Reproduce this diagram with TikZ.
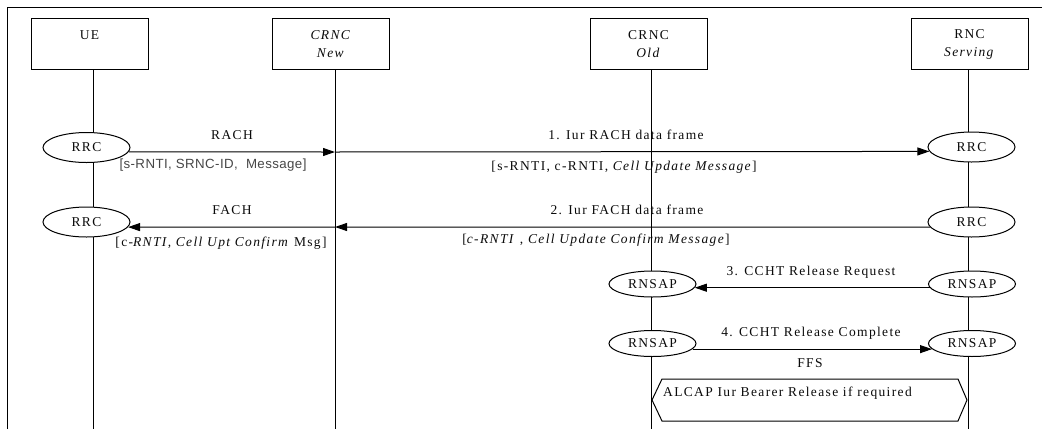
\documentclass[tikz,border=0pt]{standalone}
\usepackage{fontspec}
\setmainfont{Liberation Serif}[LetterSpace=10]
\setsansfont{Liberation Sans}[LetterSpace=3]
\usetikzlibrary{positioning,arrows.meta,shapes.geometric}
\definecolor{ligne}{RGB}{0,0,0}
\definecolor{texte}{RGB}{10,10,10}
\definecolor{parametre}{RGB}{70,70,70}
\tikzset{
  entite/.style={draw=ligne,line width=1pt,minimum width=117pt,minimum height=51pt,anchor=north,align=center,text=texte},
  protocole/.style={draw=ligne,ellipse,fill=white,line width=1pt,minimum width=87pt,minimum height=30pt,inner sep=0pt,text=texte},
  protocole2/.style={protocole,minimum height=26pt},
  message/.style={draw=ligne,line width=1pt,-{Triangle[length=12pt,width=8pt]}},
  vie/.style={draw=ligne,line width=1pt},
  etiquette/.style={text=texte,inner sep=0pt},
  sans/.style={text=parametre,inner sep=0pt,font=\fontsize{13.3}{18}\selectfont\sffamily}
}
\begin{document}
\begin{tikzpicture}[x=1pt,y=-1pt,font=\fontsize{13.5}{18}\selectfont]
    \useasboundingbox (0,0) rectangle (1042,429);

    % CADRE
    \draw[vie] (7,429) -- (7,7.5) -- (1043,7.5);

    % ENTITES
    \node[entite] (ue) at (89.5,18) {UE\\\phantom{N}};
    \node[entite] (crncn) at (331,18) {\textit{CRNC}\\\textit{New}};
    \node[entite] (crnco) at (648.5,18) {CRNC\\\textit{Old}};
    \node[entite] (rnc) at (969.5,18) {RNC\\\textit{Serving}};

    % LIGNES DE VIE
    \foreach \n/\x in {ue/93,crncn/335,crnco/651,rnc/968} {
        \coordinate (\n-bas) at (\x,429);
        \draw[vie] (\n.south -| \n-bas) -- (\n-bas);
    }

    % PROTOCOLES
    \node[protocole] (rrcu1) at (86.5,147.5) {RRC};
    \node[protocole] (rrcu2) at (86.5,222) {RRC};
    \node[protocole] (rrcs1) at (971.5,147) {RRC};
    \node[protocole] (rrcs2) at (971.5,222) {RRC};
    \node[protocole2] (rnsapo1) at (652.5,284) {RNSAP};
    \node[protocole2] (rnsaps1) at (972,284) {RNSAP};
    \node[protocole2] (rnsapo2) at (652.5,343.5) {RNSAP};
    \node[protocole2] (rnsaps2) at (972,343.5) {RNSAP};

    % POINTS DE PASSAGE
    \coordinate (rach) at (335,152);
    \coordinate (fach) at (335,227);

    % RACH ET 1. IUR RACH DATA FRAME
    \draw[message] (rrcu1.354) -- (rach);
    \draw[message] (rach) -- (rrcs1.186);
    \node[etiquette] at (232,135) {RACH};
    \node[sans] at (213,165) {[s-RNTI, SRNC-ID,\ \ Message]};
    \node[etiquette] at (626,135) {1. Iur RACH data frame};
    \node[etiquette] at (624,167) {[s-RNTI, c-RNTI, \textit{Cell Update Message}]};

    % FACH ET 2. IUR FACH DATA FRAME
    \draw[message] (rrcs2.187) -- (fach);
    \draw[message] (fach) -- (rrcu2.353);
    \node[etiquette] at (232,210) {FACH};
    \node[etiquette] at (221,243) {[c-\textit{RNTI, Cell Upt Confirm} Msg]};
    \node[etiquette] at (627,210) {2. Iur FACH data frame};
    \node[etiquette] at (596,240) {[\textit{c-RNTI} , \textit{Cell Update Confirm Message}]};

    % 3. ET 4. CCHT
    \draw[message] (rnsaps1.185) -- (rnsapo1.355);
    \node[etiquette] at (811,272) {3. CCHT Release Request};
    \draw[message] (rnsapo2.352) -- (rnsaps2.188);
    \node[etiquette] at (811,333) {4. CCHT Release Complete};
    \node[etiquette] at (810,363) {FFS};

    % ALCAP
    \draw[vie] (652,400) -- (662,379) -- (958,379) -- (967,400) -- (958,421) -- (662,421) -- cycle;
    \node[etiquette,anchor=west] at (663,393) {ALCAP Iur Bearer Release if required};

\end{tikzpicture}
\end{document}
